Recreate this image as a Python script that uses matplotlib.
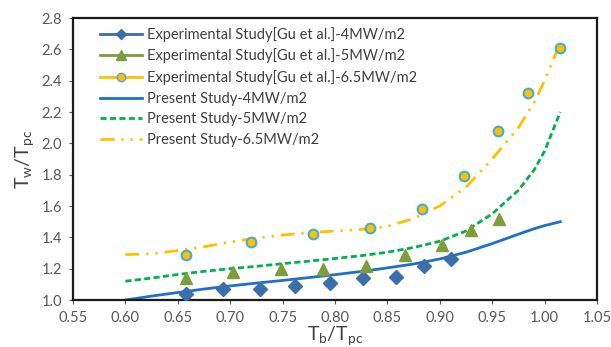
import matplotlib.pyplot as plt
from matplotlib.lines import Line2D

plt.rcParams['font.family'] = ['Lato', 'DejaVu Sans']
plt.rcParams['mathtext.fontset'] = 'custom'
plt.rcParams['mathtext.rm'] = 'Lato'

# experimental points (Gu et al.)
exp4_x = [0.6575, 0.693, 0.728, 0.762, 0.795, 0.827, 0.858, 0.885, 0.911]
exp4_y = [1.04, 1.07, 1.07, 1.09, 1.11, 1.14, 1.15, 1.22, 1.26]
exp5_x = [0.6575, 0.703, 0.7485, 0.789, 0.8296, 0.867, 0.902, 0.930, 0.957]
exp5_y = [1.14, 1.18, 1.20, 1.20, 1.22, 1.29, 1.35, 1.45, 1.52]
exp65_x = [0.6575, 0.720, 0.779, 0.8335, 0.883, 0.923, 0.956, 0.984, 1.0147]
exp65_y = [1.29, 1.37, 1.42, 1.46, 1.58, 1.79, 2.08, 2.32, 2.61]

# present study curves
sim_x = [0.60, 0.625, 0.65, 0.675, 0.70, 0.725, 0.75, 0.775, 0.80, 0.825,
         0.85, 0.875, 0.90, 0.925, 0.95, 0.975, 0.99, 1.00, 1.015]
sim4_y = [1.00, 1.025, 1.048, 1.07, 1.09, 1.108, 1.125, 1.143, 1.162, 1.182,
          1.205, 1.23, 1.262, 1.305, 1.36, 1.42, 1.455, 1.475, 1.50]
sim5_y = [1.12, 1.14, 1.163, 1.183, 1.20, 1.215, 1.232, 1.248, 1.265, 1.283,
          1.305, 1.335, 1.375, 1.44, 1.55, 1.70, 1.83, 1.95, 2.20]
sim65_y = [1.29, 1.295, 1.315, 1.34, 1.37, 1.395, 1.415, 1.43, 1.44, 1.45,
           1.47, 1.52, 1.60, 1.72, 1.90, 2.10, 2.26, 2.40, 2.64]

labels = ['Experimental Study[Gu et al.]-4MW/m2',
          'Experimental Study[Gu et al.]-5MW/m2',
          'Experimental Study[Gu et al.]-6.5MW/m2',
          'Present Study-4MW/m2',
          'Present Study-5MW/m2',
          'Present Study-6.5MW/m2']

c_dia = '#3C6EAA'
c_tri = '#7F9C3D'
c_cir = '#FFC000'
c_cir_edge = '#4BACC6'
c_l4 = '#1F70C8'
c_l5 = '#00B050'
c_l65 = '#FFC000'

fig = plt.figure(figsize=(6.11, 3.47), dpi=100)
ax = fig.add_axes([0.1195, 0.1354, 0.8575, 0.8126])

ax.plot(sim_x, sim4_y, color=c_l4, lw=2.0, zorder=2)
ax.plot(sim_x, sim5_y, color=c_l5, lw=2.0, dashes=(2.2, 1.2), zorder=2)
ax.plot(sim_x, sim65_y, color=c_l65, lw=2.0, dashes=(5, 2.5, 0.8, 2.5, 0.8, 2.5), zorder=2)

ax.plot(exp4_x, exp4_y, ls='none', marker='D', ms=7, color=c_dia, mec=c_dia, zorder=3)
ax.plot(exp5_x, exp5_y, ls='none', marker='^', ms=9, color=c_tri, mec=c_tri, zorder=3)
ax.plot(exp65_x, exp65_y, ls='none', marker='o', ms=7, color=c_cir, mec=c_cir_edge,
        mew=1.5, zorder=3)

handles = [
    Line2D([], [], color=c_dia, lw=2, marker='D', ms=5),
    Line2D([], [], color=c_tri, lw=2, marker='^', ms=7),
    Line2D([], [], color=c_cir, lw=2, marker='o', ms=6, mec=c_cir_edge, mew=1),
    Line2D([], [], color=c_l4, lw=2),
    Line2D([], [], color=c_l5, lw=2, dashes=(2.2, 1.2)),
    Line2D([], [], color=c_l65, lw=2, dashes=(5, 2.5, 0.8, 2.5, 0.8, 2.5)),
]
ax.legend(handles, labels, loc='upper left', bbox_to_anchor=(0.035, 1.0),
          frameon=False, fontsize=10.5, handlelength=2.9, handletextpad=0.35,
          labelspacing=0.46, borderaxespad=0.2, labelcolor='#404040')

ax.set_xlim(0.55, 1.05)
ax.set_ylim(1.0, 2.8)
ax.set_xticks([0.55 + 0.05 * i for i in range(11)])
ax.set_yticks([1.0 + 0.2 * i for i in range(10)])
ax.xaxis.set_major_formatter(plt.FormatStrFormatter('%.2f'))
ax.yaxis.set_major_formatter(plt.FormatStrFormatter('%.1f'))
ax.tick_params(labelsize=10.5, colors='#595959', length=3, width=0.8, pad=5)

for s in ax.spines.values():
    s.set_linewidth(1.6)
    s.set_color('#1a1a1a')

ax.set_xlabel(r'T$_{\mathrm{b}}$/T$_{\mathrm{pc}}$', fontsize=14, color='#404040', labelpad=0)
ax.set_ylabel(r'T$_{\mathrm{w}}$/T$_{\mathrm{pc}}$', fontsize=14, color='#404040', labelpad=3)

fig.savefig('out.png', dpi=100)
